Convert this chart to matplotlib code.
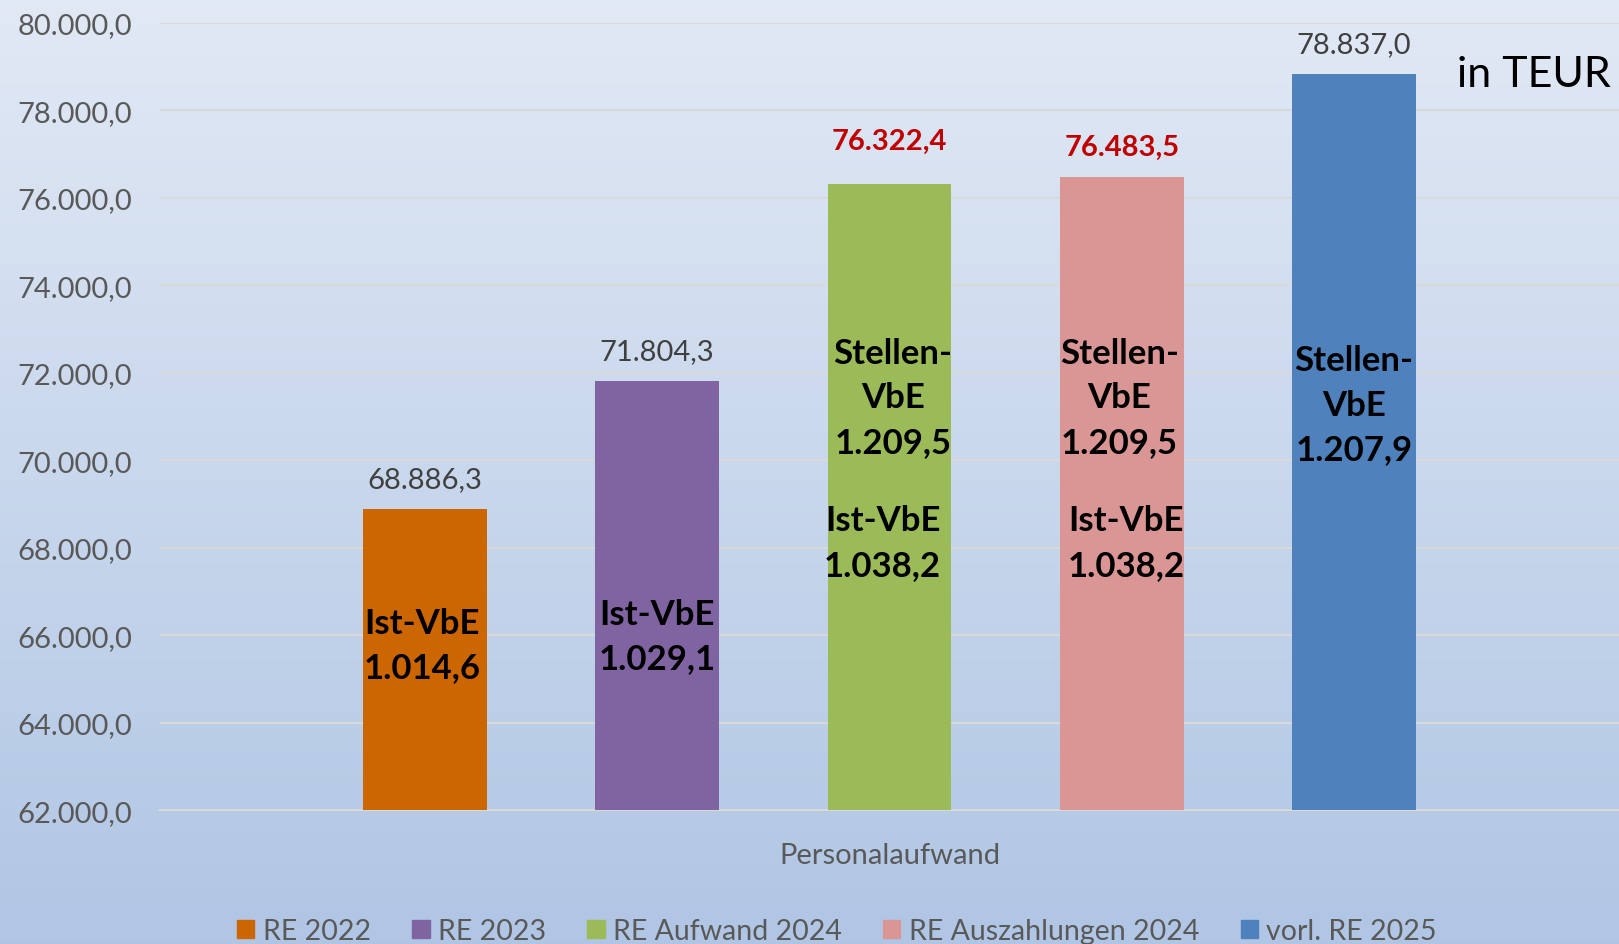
# Personalaufwand RE 2022 - vorl. RE 2025

import numpy as np
import matplotlib.pyplot as plt

plt.rcParams['font.family'] = ['Lato', 'DejaVu Sans']

series = ['RE 2022', 'RE 2023', 'RE Aufwand 2024', 'RE Auszahlungen 2024', 'vorl. RE 2025']
values = [68886.3, 71804.3, 76322.4, 76483.5, 78837.0]
value_labels = ['68.886,3', '71.804,3', '76.322,4', '76.483,5', '78.837,0']
colors = ['#cc6600', '#8064a2', '#9bbb59', '#d99694', '#4f81bd']
label_colors = ['#404040', '#404040', '#c00000', '#c00000', '#404040']
label_bold = [False, False, True, True, False]
label_gap = [30, 30, 43, 30, 30]   # px above bar top

stellen_vbe = [None, None, '1.209,5', '1.209,5', '1.207,9']
ist_vbe = ['1.014,6', '1.029,1', '1.038,2', '1.038,2', None]
stellen_y = [None, None, 71437, 71437, 71272]
ist_y = [65780, 65990, 68122, 68122, None]
stellen_dx = [0, 0, 0.015, -0.01, 0]
ist_dx = [-0.01, 0.0, -0.03, 0.02, 0]

category = 'Personalaufwand'
yticks = np.arange(62000, 80001, 2000)

def de_fmt(v):
    s = '{:,.1f}'.format(v)
    return s.replace(',', 'X').replace('.', ',').replace('X', '.')

fig = plt.figure(figsize=(16.19, 9.45), dpi=100)

# gradient background
bg = fig.add_axes([0, 0, 1, 1], zorder=-10)
grad = np.linspace(0, 1, 256).reshape(-1, 1)
top = np.array([0.886, 0.914, 0.961])
bot = np.array([0.690, 0.776, 0.894])
img = top[None, None, :] * (1 - grad[:, :, None]) + bot[None, None, :] * grad[:, :, None]
bg.imshow(img, aspect='auto', extent=[0, 1, 0, 1])
bg.axis('off')

ax = fig.add_axes([0.0988, 0.1413, 0.9012, 0.8336])
ax.set_facecolor('none')

x = np.arange(len(series))
width = 120 / 225
bars = ax.bar(x, np.array(values) - 62000, bottom=62000, width=width,
              color=colors, zorder=3)

ax.set_xlim(2 - 3.14, 2 + 3.14)
ax.set_ylim(62000, 80000)
ax.set_yticks(yticks)
ax.set_yticklabels([de_fmt(t) for t in yticks], fontsize=21, color='#595959')
ax.set_xticks([])
ax.tick_params(axis='y', length=0, pad=20)
ax.grid(axis='y', color='#d9d9d9', linewidth=1.5, zorder=0)
for s in ['top', 'right', 'left']:
    ax.spines[s].set_visible(False)
ax.spines['bottom'].set_color('#d9d9d9')
ax.spines['bottom'].set_linewidth(1.5)

for i, rect in enumerate(bars):
    h = rect.get_y() + rect.get_height()
    ax.annotate(value_labels[i], (rect.get_x() + rect.get_width() / 2, h),
                xytext=(0, label_gap[i] * 0.72), textcoords='offset points',
                ha='center', va='center', fontsize=21, color=label_colors[i],
                fontweight='bold' if label_bold[i] else 'normal')
    if stellen_vbe[i]:
        ax.text(x[i] + stellen_dx[i], stellen_y[i], 'Stellen-\nVbE\n' + stellen_vbe[i],
                ha='center', va='center', fontsize=25, fontweight='bold',
                linespacing=1.48, zorder=4)
    if ist_vbe[i]:
        ax.text(x[i] + ist_dx[i], ist_y[i], 'Ist-VbE\n' + ist_vbe[i],
                ha='center', va='center', fontsize=25, fontweight='bold',
                linespacing=1.48, zorder=4)

ax.text(0.5, -0.057, category, transform=ax.transAxes, ha='center', va='center',
        fontsize=21, color='#595959')

fig.text(0.995, 0.921, 'in TEUR', ha='right', va='center', fontsize=31, color='black')

handles = [plt.Rectangle((0, 0), 1, 1, color=c) for c in colors]
fig.legend(handles, series, loc='center', bbox_to_anchor=(0.517, 0.014), ncol=5,
           frameon=False, fontsize=20.5, labelcolor='#595959', handlelength=0.6,
           handleheight=0.6, handletextpad=0.3, columnspacing=1.45)

fig.savefig('out.png', dpi=100)
